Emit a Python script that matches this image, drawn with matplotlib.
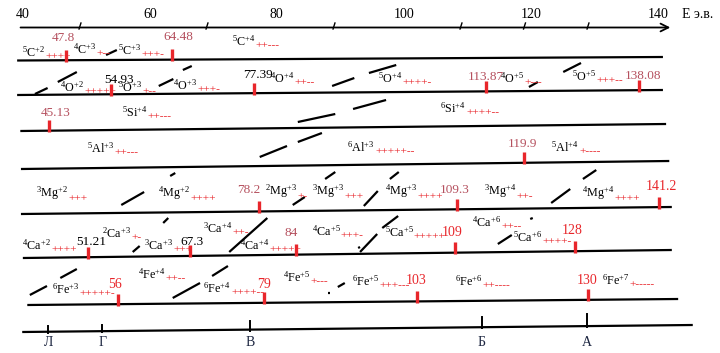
import matplotlib
matplotlib.use('Agg')
import matplotlib.pyplot as plt

plt.rcParams['font.family'] = ['Liberation Serif', 'DejaVu Serif']
plt.rcParams['mathtext.fontset'] = 'custom'
plt.rcParams['mathtext.rm'] = 'Liberation Serif'
plt.rcParams['mathtext.it'] = 'Liberation Serif:italic'
plt.rcParams['mathtext.bf'] = 'Liberation Serif:bold'

RED = '#e8262b'
MUTED = '#b5505e'
PX = 6.35  # pixels per eV

# energy axis (eV)
axis_labels = [40, 60, 80, 100, 120, 140]
axis_marks = [50, 70, 90, 110, 120, 130]

# rows: baseline level at left / right end, start / end energy
row_y_left = [60.5, 95, 131, 169, 214, 258, 305, 332]
row_y_right = [57, 90, 124, 161, 207, 250, 299, 325]
row_start = [40.1, 40.1, 40.6, 40.7, 40.7, 41.0, 41.7, 40.9]
row_end = [141.8, 141.8, 142.3, 142.8, 143.2, 143.2, 144.2, 146.5]

# ion labels
ion_mass = ['5', '4', '5', '5',
            '4', '5', '4', '4', '5', '4', '5',
            '5', '6',
            '5', '6', '5',
            '3', '4', '2', '3', '4', '3', '4',
            '4', '2', '3', '3', '4', '4', '5', '4', '5',
            '6', '4', '6', '4', '6', '6', '6']
ion_elem = ['C'] * 4 + ['O'] * 7 + ['Si'] * 2 + ['Al'] * 3 + ['Mg'] * 7 + ['Ca'] * 9 + ['Fe'] * 7
ion_charge = ['+2', '+3', '+3', '+4',
              '+2', '+3', '+3', '+4', '+4', '+5', '+5',
              '+4', '+4',
              '+3', '+3', '+4',
              '+2', '+2', '+3', '+3', '+3', '+4', '+4',
              '+2', '+3', '+3', '+4', '+4', '+5', '+5', '+6', '+6',
              '+3', '+4', '+4', '+5', '+5', '+6', '+7']
ion_signs = ['++++', '+--', '+++-', '++---',
             '+++++', '+--', '+++-', '++--', '++++-', '+---', '+++--',
             '++---', '++++--',
             '++---', '+++++--', '+----',
             '+++', '++++', '+-', '+++', '++++', '++-', '++++',
             '++++', '+-', '+++', '++-', '+++++', '+++-', '+++++', '++--', '++++-',
             '+++++-', '++--', '++++--', '+---', '+++---', '++----', '+-----']
ion_x = [40.9, 48.9, 56.0, 73.9,
         46.9, 56.0, 64.6, 79.9, 96.9, 116.1, 127.5,
         56.6, 106.7,
         51.1, 92.1, 124.2,
         43.1, 62.3, 79.1, 86.5, 98.0, 113.6, 129.0,
         40.9, 53.5, 60.1, 69.4, 75.2, 86.5, 98.0, 111.7, 118.2,
         45.6, 59.1, 69.4, 81.9, 92.8, 109.0, 132.2]
ion_y = [57, 54, 55, 46,
         92, 92, 90, 83, 83, 83, 81,
         117, 113,
         153, 152, 152,
         197, 197, 195, 195, 195, 195, 197,
         250, 238, 250, 233, 250, 236, 237, 227, 242,
         294, 279, 293, 282, 286, 286, 285]

# ionisation energy marks
mark_E = [47.8, 64.48, 54.93, 77.39, 113.87, 138.08, 45.13, 119.9, 78.2, 109.3,
          141.2, 51.21, 67.3, 84, 109, 128, 56, 79, 103, 130]
mark_row = [0, 0, 1, 1, 1, 1, 2, 3, 4, 4, 4, 5, 5, 5, 5, 5, 6, 6, 6, 6]
mark_kind = ['m', 'm', 'k', 'k', 'm', 'm', 'm', 'm', 'm', 'm',
             'r', 'k', 'k', 'm', 'r', 'r', 'r', 'r', 'r', 'r']
mark_label_y = [38, 37, 80, 75, 77, 76, 113, 144, 190, 190,
                187, 242, 242, 233, 233, 230, 285, 285, 281, 281]
mark_label_dx = [-3, 6, 8, 4, 0, 4, 7, -1, -10, -2,
                 2, 4, 2, -5, -2, -3, -3, 0, 0, -1]

# diagonal link strokes (E1, y1, E2, y2)
links = [(54.1, 55, 55.8, 50), (42.9, 94, 44.9, 88), (46.5, 82, 49.5, 72),
         (62.4, 86, 64.7, 79), (66.2, 70, 67.6, 66), (89.7, 86, 93.2, 78),
         (95.5, 73, 99.8, 65), (120.7, 87, 122.1, 82), (126.1, 72, 128.9, 63),
         (84.3, 122, 90.2, 114), (93.0, 109, 98.2, 100), (78.3, 157, 82.6, 146),
         (84.3, 142, 88.1, 133), (64.2, 176, 65.0, 173), (88.6, 179, 90.2, 172),
         (98.8, 179, 100.2, 172), (129.2, 179, 131.3, 170), (56.5, 205, 60.1, 192),
         (83.5, 205, 85.4, 197), (63.1, 223, 63.9, 218), (58.3, 252, 59.4, 246),
         (73.5, 252, 79.5, 218), (94.7, 206, 96.9, 191), (124.2, 203, 127.2, 189),
         (94.1, 252, 96.8, 234), (97.6, 228, 100.1, 216), (115.8, 244, 118.0, 235),
         (120.9, 219, 121.3, 218), (42.1, 295, 44.8, 286), (46.9, 278, 49.5, 269),
         (64.6, 298, 68.9, 283), (70.8, 276, 73.3, 266), (89.1, 293, 89.4, 293),
         (90.6, 287, 91.7, 283), (93.8, 248, 94.1, 247)]

# reference letters on the bottom line
letters = ['Л', 'Г', 'В', 'Б', 'А']
letter_E = [45.0, 53.5, 76.8, 113.3, 129.8]
letter_tick_top = [326, 325, 321, 317, 314]


def baseline(row, e):
    f = (e - row_start[row]) / (row_end[row] - row_start[row])
    return row_y_left[row] + f * (row_y_right[row] - row_y_left[row])


fig = plt.figure(figsize=(7.2, 3.53), dpi=100)
ax = fig.add_axes([0, 0, 1, 1])
ax.set_xlim(237.5 / PX, (720 + 237.5) / PX)
ax.set_ylim(353, 0)
ax.axis('off')

# top energy axis
ax.annotate('', xy=(143.4, 27.5), xytext=(40.2, 27.5),
            arrowprops=dict(arrowstyle='->', color='black', lw=1.3, mutation_scale=14))
for v in axis_labels:
    ax.text(v + 1.0, 15, str(v), ha='center', va='center', fontsize=10)
for v in axis_marks:
    ax.plot([v - 0.15, v + 0.15], [29, 23], color='black', lw=1.0)
ax.text(144.8, 15, 'E э.в.', ha='left', va='center', fontsize=10)

# row lines
for r in range(len(row_y_left)):
    ax.plot([row_start[r], row_end[r]], [row_y_left[r], row_y_right[r]],
            color='black', lw=1.6, solid_capstyle='butt')

for x1, y1, x2, y2 in links:
    ax.plot([x1, x2], [y1, y2], color='black', lw=1.6, solid_capstyle='butt')

# ion labels
for x, y, m, el, q, s in zip(ion_x, ion_y, ion_mass, ion_elem, ion_charge, ion_signs):
    t = ax.text(x, y, r'$^{%s}\mathrm{%s}^{%s}$' % (m, el, q),
                ha='left', va='baseline', fontsize=8.7)
    ax.annotate(s, xy=(1, 0), xycoords=t, xytext=(0.2, -0.8),
                textcoords='offset points', ha='left', va='bottom',
                color=RED, fontsize=8.2)

# energy marks
colors = {'m': MUTED, 'k': 'black', 'r': RED}
for e, r, k, ly, dx in zip(mark_E, mark_row, mark_kind, mark_label_y, mark_label_dx):
    yb = baseline(r, e) + 1.5
    ax.plot([e, e], [yb, yb - 12], color=RED, lw=2.4, solid_capstyle='butt')
    ax.text(e + dx / PX, ly, f'{e:g}', ha='center', va='center', color=colors[k],
            fontsize=10 if k == 'r' else 9.5)

# bottom reference letters
for lab, e, top in zip(letters, letter_E, letter_tick_top):
    yb = baseline(7, e)
    ax.plot([e, e], [top, yb + 1], color='black', lw=1.4)
    ax.text(e, 342, lab, ha='center', va='center', fontsize=10, color='#1c2540')

plt.savefig('out.png', dpi=100)
